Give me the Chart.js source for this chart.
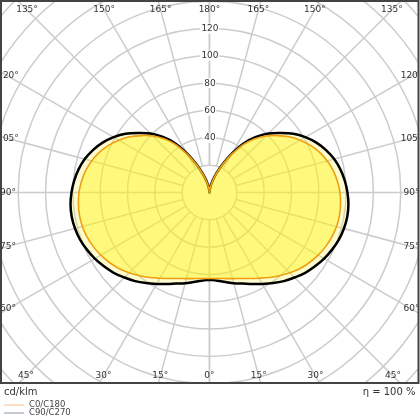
<!DOCTYPE html>
<html>
<head>
<meta charset="utf-8">
<script src="https://cdn.jsdelivr.net/npm/chart.js@4.4.0/dist/chart.umd.min.js"></script>
<style>
  html, body { margin: 0; padding: 0; background: #fff; }
  canvas { display: block; }
</style>
</head>
<body>
<canvas id="polarLdc" width="420" height="420"></canvas>
<script>
const gammaAngles = [0, 5, 10, 15, 20, 25, 30, 35, 40, 45, 50, 55, 60, 65, 70, 75, 80, 85, 90,
    95, 100, 105, 110, 115, 120, 125, 130, 135, 140, 145, 150, 155, 160, 165, 170, 175, 180];
const valuesC0C180 = [63, 63.2, 64, 65.3, 67, 69.5, 72.5, 76, 79.6, 83.2, 86.6, 89.4, 91.8, 93.8, 95.3, 96.3, 96.6, 96.3, 95.5,
    94, 92, 89.3, 85.8, 81.6, 76.6, 71.2, 64.8, 58.5, 51, 42.5, 32.2, 22.6, 14.8, 8.9, 4.4, 1.5, 0];
const valuesC90C270 = [64, 64.8, 66.5, 68.8, 71, 74, 77.3, 81, 84.7, 88, 91.5, 94.3, 96.9, 99, 100.8, 101.9, 102.4, 102.1, 101,
    99.4, 97.3, 94.5, 90.8, 86.3, 81, 75, 67.8, 61, 53, 44, 33, 23, 15, 9, 4.5, 1.5, 0];
const ringValues = [20, 40, 60, 80, 100, 120, 140, 160, 180, 200];
const ringLabels = [40, 60, 80, 100, 120];
const angleTicks = [0, 15, 30, 45, 60, 75, 90, 105, 120, 135, 150, 165, 180];
const seriesNames = ['C0/C180', 'C90/C270'];

// convierte la curva polar (lado izquierdo y derecho) a puntos x/y
function polarToXY(values) {
    const pts = [];
    for (let i = 0; i < gammaAngles.length; i++) {
        const a = gammaAngles[i] * Math.PI / 180;
        pts.push({ x: -values[i] * Math.sin(a), y: -values[i] * Math.cos(a) });
    }
    for (let i = gammaAngles.length - 2; i >= 0; i--) {
        const a = gammaAngles[i] * Math.PI / 180;
        pts.push({ x: values[i] * Math.sin(a), y: -values[i] * Math.cos(a) });
    }
    return pts;
}

const FONT = '"DejaVu Sans", sans-serif';

const polarGrid = {
    id: 'polarGrid',
    beforeDatasetsDraw(chart) {
        const { ctx, chartArea, scales: { x, y } } = chart;
        const cx = x.getPixelForValue(0), cy = y.getPixelForValue(0);
        const unit = x.getPixelForValue(1) - cx;
        ctx.save();
        ctx.beginPath();
        ctx.rect(chartArea.left, chartArea.top, chartArea.width, chartArea.height);
        ctx.clip();
        ctx.strokeStyle = '#cccccc';
        ctx.lineWidth = 1.5;
        ringValues.forEach(v => {
            ctx.beginPath();
            ctx.arc(cx, cy, v * unit, 0, Math.PI * 2);
            ctx.stroke();
        });
        angleTicks.forEach(g => {
            const a = g * Math.PI / 180;
            [-1, 1].forEach(side => {
                const dx = side * Math.sin(a), dy = Math.cos(a);
                ctx.beginPath();
                ctx.moveTo(cx + dx * 20 * unit, cy + dy * 20 * unit);
                ctx.lineTo(cx + dx * 240 * unit, cy + dy * 240 * unit);
                ctx.stroke();
            });
        });
        ctx.restore();
    },
    afterDatasetsDraw(chart) {
        const { ctx, chartArea, scales: { x, y } } = chart;
        const cx = x.getPixelForValue(0), cy = y.getPixelForValue(0);
        ctx.save();
        ctx.beginPath();
        ctx.rect(chartArea.left, chartArea.top, chartArea.width, chartArea.height);
        ctx.clip();

        // etiquetas de los anillos
        ctx.font = '9px ' + FONT;
        ctx.textAlign = 'center';
        ctx.textBaseline = 'middle';
        ringLabels.forEach(v => {
            const py = y.getPixelForValue(v);
            const txt = String(v);
            const w = ctx.measureText(txt).width;
            ctx.fillStyle = '#ffffff';
            ctx.fillRect(cx - w / 2 - 1, py - 5, w + 2, 10);
            ctx.fillStyle = '#333333';
            ctx.fillText(txt, cx + 0.5, py);
        });

        // etiquetas de los ángulos sobre el borde
        const box = { left: 8, right: 411.5, top: 10, bottom: 376 };
        angleTicks.forEach(g => {
            const a = g * Math.PI / 180;
            const sides = (g === 0 || g === 180) ? [1] : [-1, 1];
            sides.forEach(side => {
                const dx = side * Math.sin(a), dy = Math.cos(a);
                let t = Infinity;
                if (dx < -1e-6) t = Math.min(t, (box.left - cx) / dx);
                if (dx > 1e-6) t = Math.min(t, (box.right - cx) / dx);
                if (dy < -1e-6) t = Math.min(t, (box.top - cy) / dy);
                if (dy > 1e-6) t = Math.min(t, (box.bottom - cy) / dy);
                ctx.fillStyle = '#333333';
                ctx.fillText(g + '°', cx + dx * t, cy + dy * t);
            });
        });
        ctx.restore();

        // marco
        ctx.save();
        ctx.strokeStyle = '#444444';
        ctx.lineWidth = 2;
        ctx.strokeRect(chartArea.left, chartArea.top, chartArea.width, chartArea.height);
        ctx.restore();
    },
    afterDraw(chart) {
        const { ctx } = chart;
        ctx.save();
        ctx.fillStyle = '#333333';
        ctx.font = '10px ' + FONT;
        ctx.textBaseline = 'middle';
        ctx.textAlign = 'left';
        ctx.fillText('cd/klm', 4, 392.5);
        ctx.textAlign = 'right';
        ctx.fillText('η = 100 %', 415.5, 392.5);

        // leyenda
        const legendColors = ['#f7c08a', '#8a96a8'];
        const legendY = [405, 413];
        ctx.font = '8.5px ' + FONT;
        ctx.textAlign = 'left';
        seriesNames.forEach((name, i) => {
            ctx.strokeStyle = legendColors[i];
            ctx.lineWidth = 1;
            ctx.beginPath();
            ctx.moveTo(4, legendY[i]);
            ctx.lineTo(24, legendY[i]);
            ctx.stroke();
            ctx.fillStyle = '#444444';
            ctx.fillText(name, 29, legendY[i]);
        });
        ctx.restore();
    }
};

const chart = new Chart(document.getElementById('polarLdc'), {
    type: 'scatter',
    data: {
        datasets: [{
            label: seriesNames[0],
            data: polarToXY(valuesC0C180),
            showLine: true,
            borderColor: '#f0a010',
            borderWidth: 1.6,
            backgroundColor: 'rgba(255, 245, 0, 0.4)',
            fill: 'shape',
            tension: 0.35,
            pointRadius: 0,
            order: 1
        }, {
            label: seriesNames[1],
            data: polarToXY(valuesC90C270),
            showLine: true,
            borderColor: '#000000',
            borderWidth: 2.5,
            backgroundColor: 'rgba(250, 240, 60, 0.25)',
            fill: 'shape',
            tension: 0.35,
            pointRadius: 0,
            order: 2
        }]
    },
    options: {
        responsive: false,
        animation: false,
        devicePixelRatio: 1,
        layout: { padding: { left: 1, right: 1.5, top: 1, bottom: 37 } },
        scales: {
            x: { type: 'linear', min: -152.6, max: 153, display: false },
            y: { type: 'linear', min: -139.5, max: 140.2, display: false }
        },
        plugins: {
            legend: { display: false },
            tooltip: { enabled: false }
        }
    },
    plugins: [polarGrid]
});
</script>
</body>
</html>
